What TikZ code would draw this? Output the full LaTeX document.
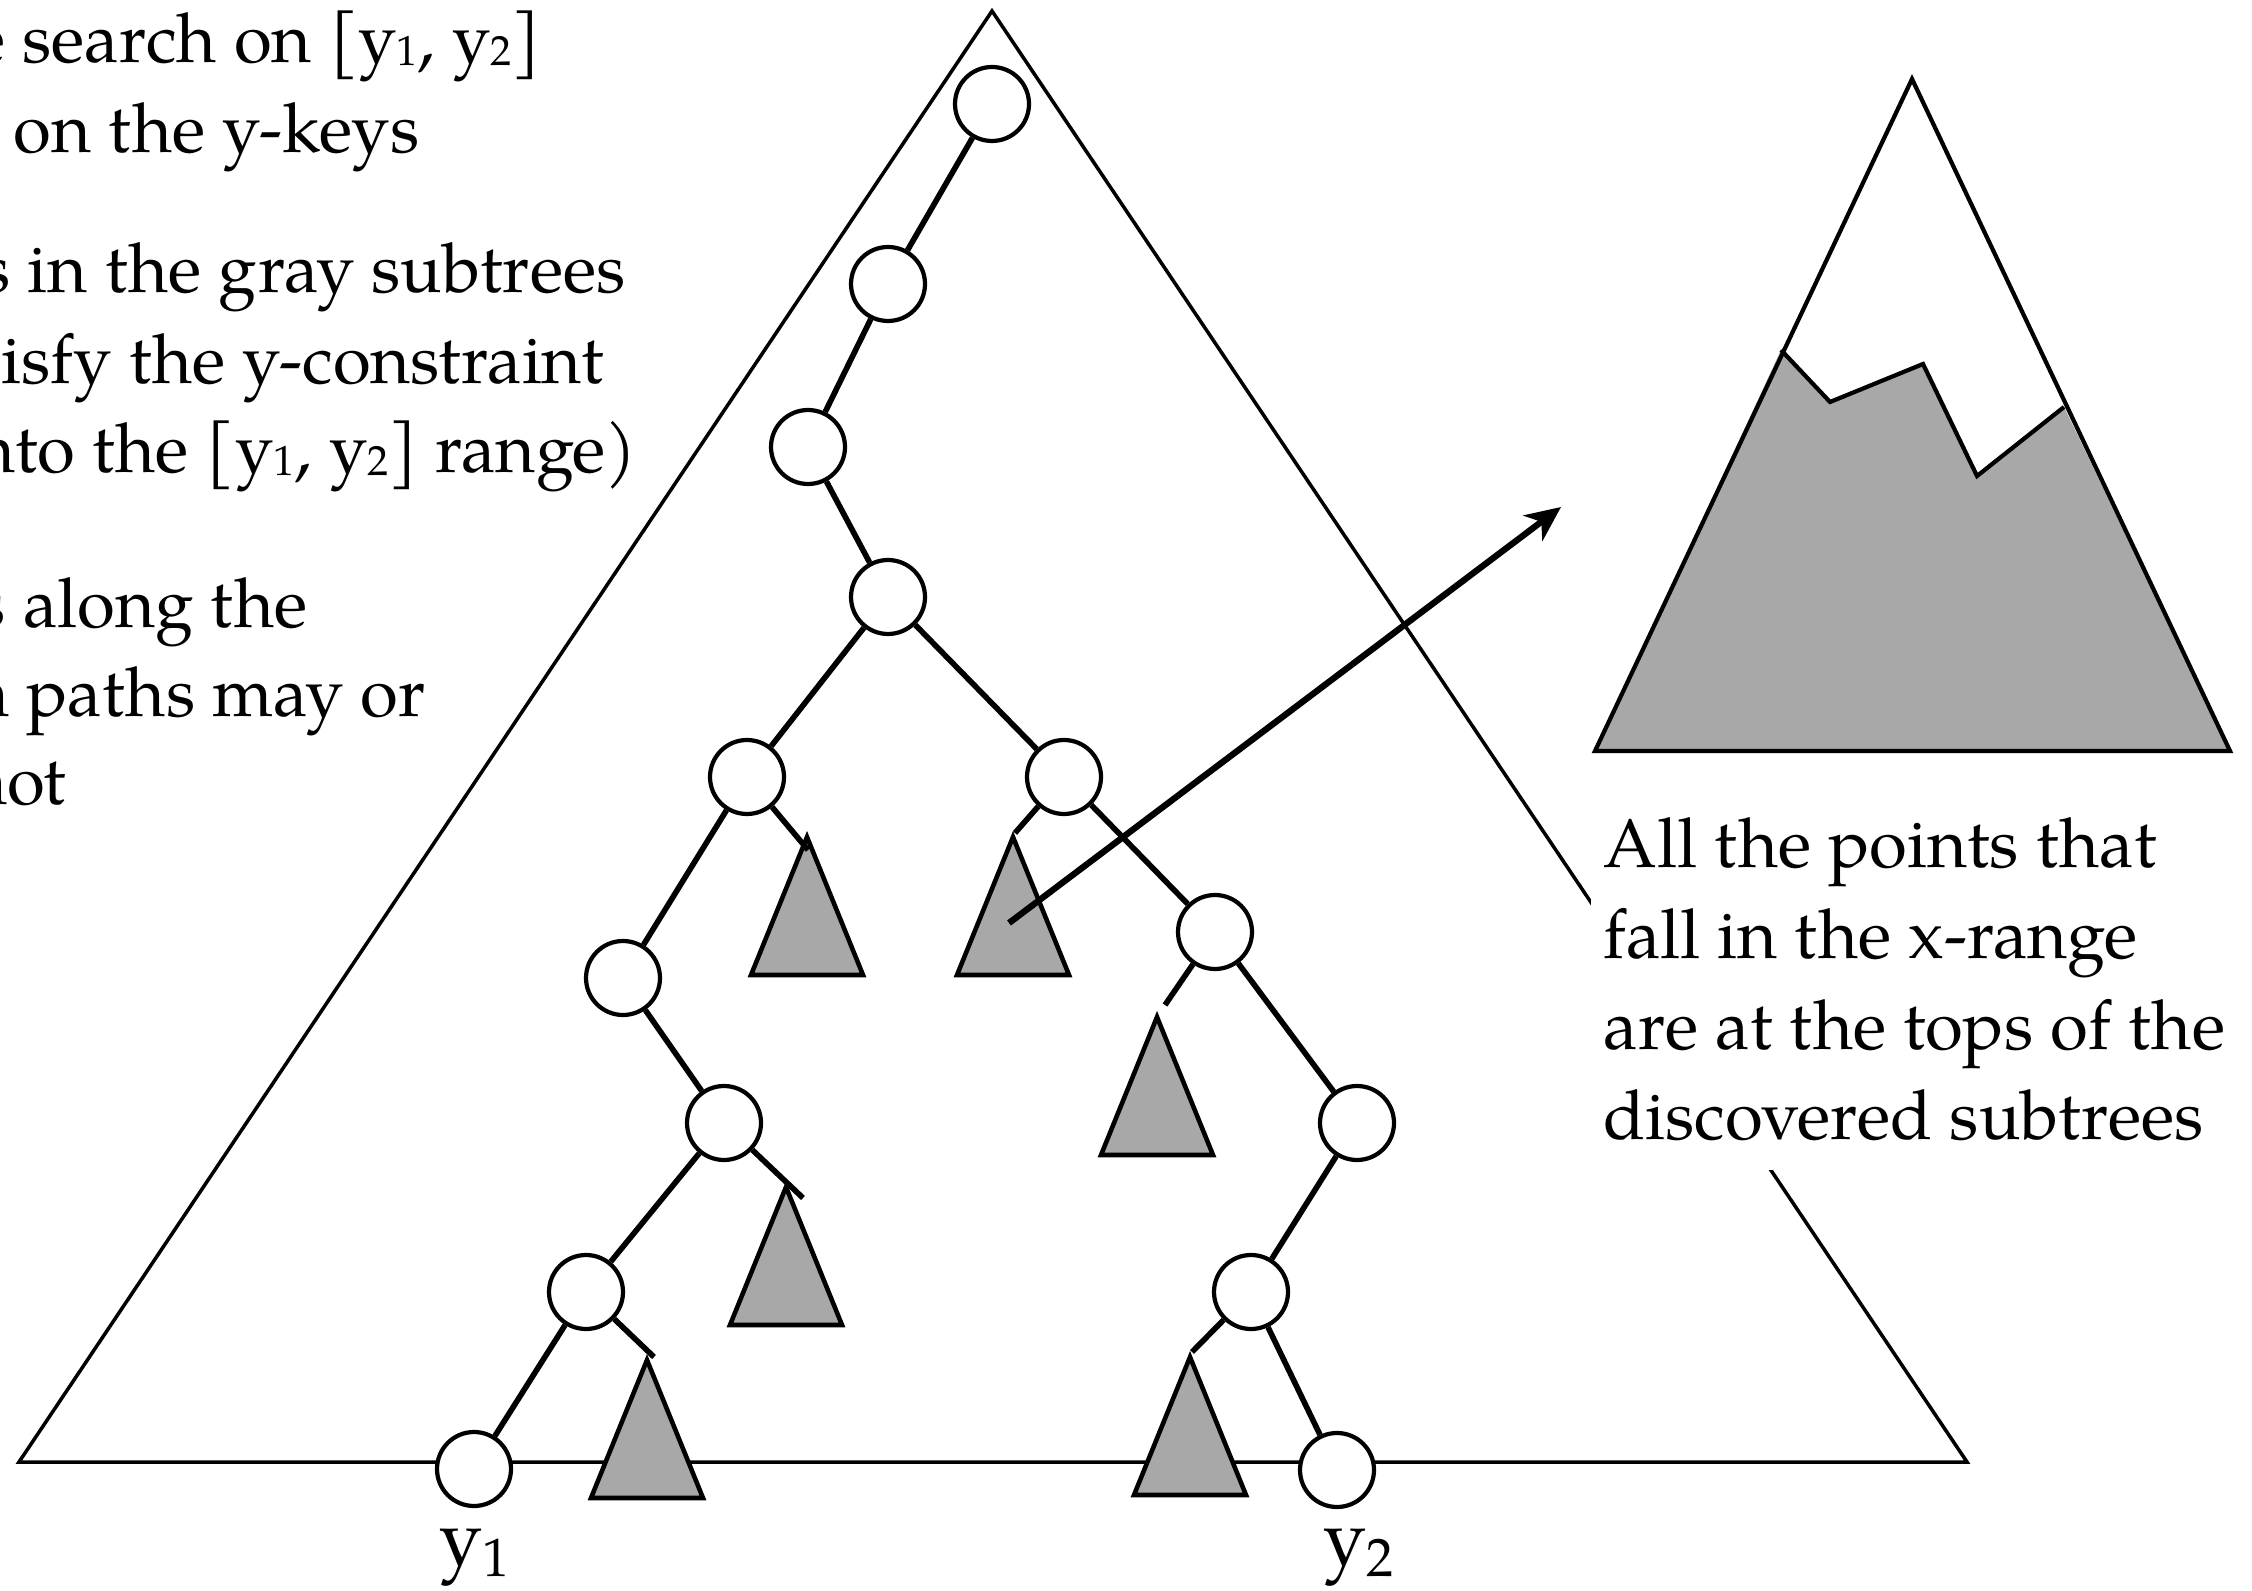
\documentclass[tikz,border=0pt]{standalone}
\usepackage{fontspec}
\setmainfont{TeX Gyre Pagella}
\usetikzlibrary{arrows.meta}
\definecolor{subgray}{RGB}{168,168,168}
\newcommand{\sbs}[1]{\raisebox{-0.8pt}{\fontsize{12}{12}\selectfont #1}}

\begin{document}
\begin{tikzpicture}[
    vert/.style={circle,draw,fill=white,line width=1.2pt,inner sep=0pt,minimum size=0.74cm},
    edge/.style={line width=1.6pt},
    subtree/.style={draw,fill=subgray,line width=1.3pt},
    txt/.style={font=\fontsize{19.6}{25.8}\selectfont,inner sep=0pt},
    lbl/.style={font=\fontsize{22}{26}\selectfont,inner sep=0pt,anchor=base}
]
    \useasboundingbox (0,0) rectangle (22.52,15.90);

    \draw[line width=1pt] (9.92,15.79) -- (0.19,1.28) -- (19.67,1.28) -- cycle;

    \coordinate (t1) at (8.07,7.53);
    \coordinate (t2) at (10.13,7.53);
    \coordinate (t3) at (11.57,5.73);
    \coordinate (t4) at (7.86,4.03);
    \coordinate (t5) at (6.47,2.30);
    \coordinate (t6) at (11.90,2.33);
    \foreach \t in {t1,t2,t3,t4,t5,t6}
        \draw[subtree] (\t) -- ++(-0.56,-1.38) -- ++(1.12,0) -- cycle;

    \node[vert] (a) at (9.92,14.86) {};
    \node[vert] (b) at (8.88,13.06) {};
    \node[vert] (c) at (8.08,11.43) {};
    \node[vert] (d) at (8.88,9.93) {};
    \node[vert] (e) at (7.47,8.13) {};
    \node[vert] (f) at (10.64,8.13) {};
    \node[vert] (g) at (6.23,6.12) {};
    \node[vert] (h) at (12.15,6.58) {};
    \node[vert] (i) at (7.24,4.67) {};
    \node[vert] (j) at (13.57,4.67) {};
    \node[vert] (k) at (5.86,2.98) {};
    \node[vert] (l) at (12.51,2.98) {};
    \node[vert] (m) at (4.74,1.21) {};
    \node[vert] (n) at (13.37,1.20) {};

    \draw[edge] (a)--(b)--(c)--(d);
    \draw[edge] (d)--(e)--(g)--(i)--(k)--(m);
    \draw[edge] (d)--(f)--(h)--(j)--(l)--(n);

    \coordinate (s1) at (8.08,7.40);
    \coordinate (s2) at (10.15,7.57);
    \coordinate (s3) at (11.65,5.85);
    \coordinate (s4) at (8.03,3.92);
    \coordinate (s5) at (6.54,2.33);
    \coordinate (s6) at (11.92,2.38);
    \draw[edge] (e)--(s1);
    \draw[edge] (f)--(s2);
    \draw[edge] (h)--(s3);
    \draw[edge] (i)--(s4);
    \draw[edge] (k)--(s5);
    \draw[edge] (l)--(s6);

    \node[lbl] (ylo) at (4.75,0.26) {y\textsubscript{1}};
    \node[lbl] (yhi) at (13.59,0.26) {y\textsubscript{2}};

    \fill[subgray] (15.95,8.39) -- (17.81,12.40) -- (18.30,11.88) -- (19.23,12.26)
        -- (19.77,11.14) -- (20.64,11.83) -- (22.30,8.39) -- cycle;
    \draw[line width=1.2pt] (19.12,15.11) -- (15.95,8.39) -- (22.30,8.39) -- cycle;
    \draw[line width=1.2pt] (17.81,12.40) -- (18.30,11.88) -- (19.23,12.26)
        -- (19.77,11.14) -- (20.64,11.83);

    \coordinate (pick) at (10.09,6.67);
    \coordinate (peak) at (15.61,10.83);
    \draw[line width=1.8pt,-{Stealth[length=10pt,width=9pt,inset=3pt]}] (pick) -- (peak);

    \node[txt,fill=white,inner xsep=0.13cm,inner ysep=0.29cm,align=left,anchor=south west] (note)
        at (15.90,4.19) {All the points that\\fall in the x-range\\are at the tops of the\\discovered subtrees};

    \node[txt,anchor=base east] (q1) at (5.42,15.27) {e search on [y\sbs{1}, y\sbs{2}]};
    \node[txt,anchor=base east] (q2) at (4.20,14.37) {on the y-keys};
    \node[txt,anchor=base east] (q3) at (6.26,12.97) {s in the gray subtrees};
    \node[txt,anchor=base east] (q4) at (6.05,12.06) {isfy the y-constraint};
    \node[txt,anchor=base east] (q5) at (6.38,11.17) {nto the [y\sbs{1}, y\sbs{2}] range)};
    \node[txt,anchor=base east] (q6) at (3.08,9.62) {s along the};
    \node[txt,anchor=base east] (q7) at (4.26,8.73) {h paths may or};
    \node[txt,anchor=base east] (q8) at (0.67,7.85) {not};
\end{tikzpicture}
\end{document}
